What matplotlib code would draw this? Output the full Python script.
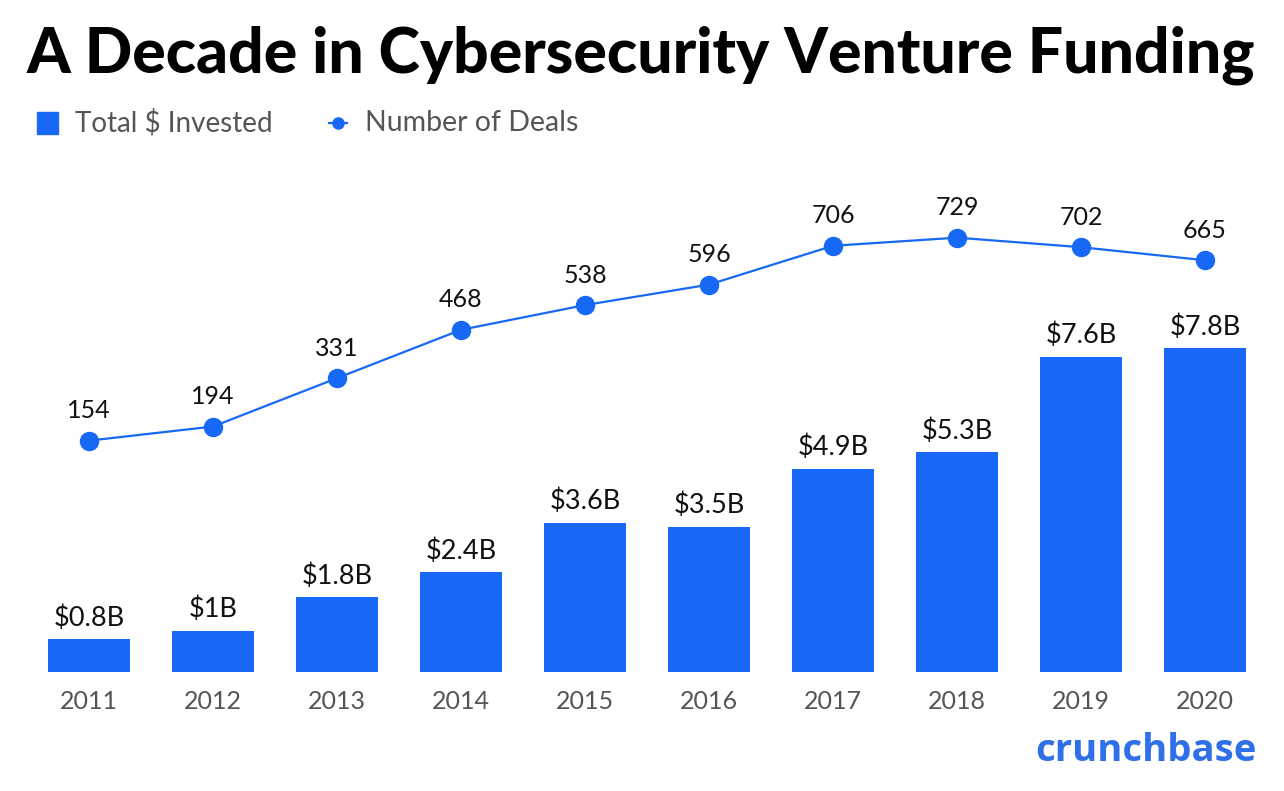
import matplotlib.pyplot as plt
from matplotlib.patches import Rectangle
from matplotlib.lines import Line2D

# data
years = ["2011", "2012", "2013", "2014", "2015", "2016", "2017", "2018", "2019", "2020"]
invested = [0.8, 1.0, 1.8, 2.4, 3.6, 3.5, 4.9, 5.3, 7.6, 7.8]
invested_labels = ["$0.8B", "$1B", "$1.8B", "$2.4B", "$3.6B", "$3.5B", "$4.9B", "$5.3B", "$7.6B", "$7.8B"]
deals = [154, 194, 331, 468, 538, 596, 706, 729, 702, 665]

blue = "#1769f5"
gray = "#555555"
plt.rcParams['font.family'] = ['Lato', 'DejaVu Sans']

W, H = 1284, 791
fig = plt.figure(figsize=(W / 100, H / 100), dpi=100)

# axes box in pixels: x 27..1267, y 190..672 (from top)
ax = fig.add_axes([27 / W, (H - 672) / H, 1240 / W, 482 / H])
x = list(range(len(years)))

ax.bar(x, invested, width=0.66, color=blue, zorder=2)
ax.set_xlim(-0.5, len(years) - 0.5)
ax.set_ylim(0, 482 / 41.5)
for i, v in enumerate(invested):
    ax.annotate(invested_labels[i], (i, v), xytext=(0, 21), textcoords="offset pixels",
                ha="center", va="center", fontsize=19.5, color="#111111")

ax.set_xticks(x)
ax.set_xticklabels(years, fontsize=18, color=gray)
ax.tick_params(axis="x", length=0, pad=13)
ax.set_yticks([])
for s in ax.spines.values():
    s.set_visible(False)

# number of deals on a twin axis
ax2 = ax.twinx()
ax2.plot(x, deals, color=blue, lw=1.6, marker="o", markersize=13, zorder=3)
ax2.set_ylim((495 - 672) / 0.353, (495 - 190) / 0.353)
ax2.set_yticks([])
for s in ax2.spines.values():
    s.set_visible(False)
for i, v in enumerate(deals):
    ax2.annotate(str(v), (i, v), xytext=(0, 30), textcoords="offset pixels",
                 ha="center", va="center", fontsize=18, color="#111111")

# title
fig.text(641 / W, 1 - 55 / H, "A Decade in Cybersecurity Venture Funding",
         ha="center", va="center", fontsize=45, fontweight="black", color="black")

# legend drawn by hand
fig.patches.append(Rectangle((37 / W, 1 - 134 / H), 21 / W, 22 / H, transform=fig.transFigure,
                             color=blue, figure=fig))
fig.text(75 / W, 1 - 123 / H, "Total $ Invested", ha="left", va="center", fontsize=20, color=gray)
fig.lines.append(Line2D([329 / W, 338 / W, 347 / W], [1 - 123 / H] * 3, transform=fig.transFigure,
                        color=blue, lw=1.6, marker="o", markersize=8, markevery=[1],
                        figure=fig))
fig.text(365 / W, 1 - 123 / H, "Number of Deals", ha="left", va="center", fontsize=20.5, color=gray)

# logo
fig.text(1257 / W, 1 - 751 / H, "crunchbase", ha="right", va="center", fontsize=27.5,
         fontweight="bold", color="#2f6fe8", family=["Open Sans", "DejaVu Sans"])

fig.savefig("out.png", dpi=100, facecolor="white")
